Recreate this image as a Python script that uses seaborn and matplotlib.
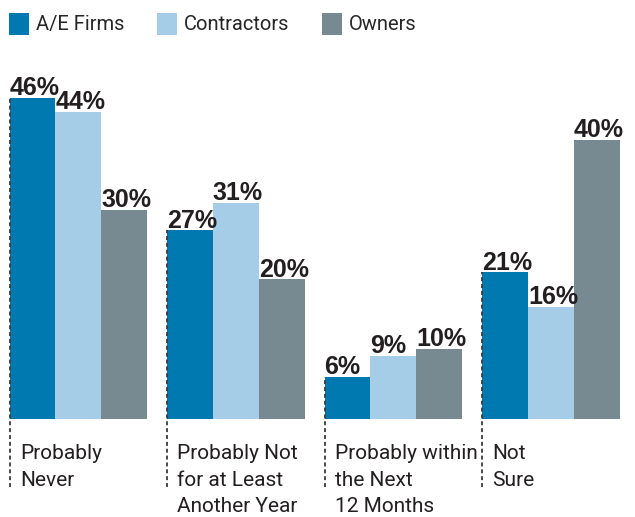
import pandas as pd
import matplotlib.pyplot as plt
import seaborn as sns
from matplotlib import font_manager

# data
categories = ['Probably\nNever', 'Probably Not\nfor at Least\nAnother Year',
              'Probably within\nthe Next\n12 Months', 'Not\nSure']
groups = ['A/E Firms', 'Contractors', 'Owners']
ae_firms = [46, 27, 6, 21]
contractors = [44, 31, 9, 16]
owners = [30, 20, 10, 40]
colors = ['#0078b0', '#a6cde8', '#788a91']

df = pd.DataFrame({
    'cat': categories * 3,
    'group': [g for g in groups for _ in categories],
    'val': ae_firms + contractors + owners,
})

# pick a narrow font if one is around
names = {f.name for f in font_manager.fontManager.ttflist}
narrow = 'Liberation Sans Narrow' if 'Liberation Sans Narrow' in names else 'Roboto'

sns.set_style('white')
plt.rcParams['font.family'] = [narrow, 'DejaVu Sans']

fig = plt.figure(figsize=(6.35, 5.17), dpi=100)
ax = fig.add_axes([0, 98 / 517, 1, 419 / 517])

width = 0.875
sns.barplot(data=df, x='cat', y='val', hue='group', order=categories,
            hue_order=groups, palette=colors, width=width, saturation=1,
            gap=0, linewidth=0, edgecolor='none', ax=ax)

ax.set_xlim(-0.498, 3.534)
ax.set_ylim(0, 60)
ax.axis('off')

# value labels
for cont in ax.containers:
    for bar in cont:
        h = bar.get_height()
        ax.annotate(f'{h:.0f}%', (bar.get_x(), h), xytext=(0, 2),
                    textcoords='offset points', ha='left', va='baseline',
                    fontsize=18, fontweight='heavy', family='Liberation Sans',
                    color='#231f20', clip_on=False)

# dotted lines + category labels
for i, cat in enumerate(categories):
    left = i - width / 2
    ax.vlines(left, -9.7, ae_firms[i], colors='#3a3a3a', linestyles=(0, (2.2, 1.6)),
              linewidth=1.3, zorder=5, clip_on=False)
    ax.annotate(cat, (left, 0), xytext=(7.5, -18), textcoords='offset points',
                ha='left', va='top', fontsize=15, color='#231f20',
                linespacing=1.5, annotation_clip=False)

# legend along the top
handles, labels = ax.get_legend_handles_labels()
ax.legend(handles, labels, loc='upper left', bbox_to_anchor=(0.0, 0.993),
          bbox_transform=fig.transFigure, ncol=3, frameon=False,
          fontsize=14.5, handlelength=1.0, handleheight=1.3,
          handletextpad=0.35, columnspacing=1.6, borderaxespad=0.0,
          borderpad=0.45)

fig.savefig('out.png', dpi=100)
